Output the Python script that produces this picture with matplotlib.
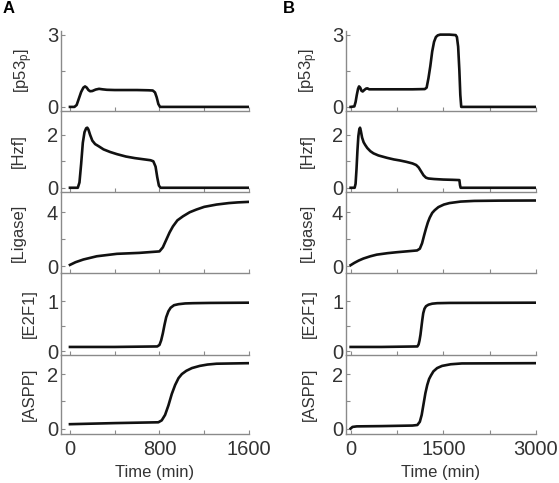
import matplotlib
matplotlib.use('Agg')
import matplotlib.pyplot as plt

plt.rcParams['font.family'] = ['Liberation Sans', 'DejaVu Sans']
plt.rcParams['mathtext.default'] = 'regular'

# ---- data ----
# panel A
tA_p53 = [0, 40, 60, 80, 100, 120, 135, 150, 165, 180, 200, 230, 260, 290, 330, 400, 500, 600, 700, 740, 760, 775, 790, 805, 1600]
A_p53 = [0, 0, 0.08, 0.35, 0.62, 0.8, 0.85, 0.8, 0.7, 0.65, 0.66, 0.72, 0.75, 0.73, 0.71, 0.7, 0.7, 0.7, 0.69, 0.68, 0.6, 0.4, 0.12, 0.0, 0.0]

tA_hzf = [0, 70, 85, 100, 115, 130, 145, 155, 165, 180, 200, 225, 260, 300, 360, 420, 500, 580, 650, 720, 745, 765, 780, 795, 810, 1600]
A_hzf = [0, 0, 0.2, 0.9, 1.7, 2.1, 2.25, 2.27, 2.2, 2.0, 1.78, 1.65, 1.56, 1.45, 1.35, 1.27, 1.18, 1.12, 1.08, 1.04, 1.0, 0.8, 0.4, 0.08, 0, 0]

tA_lig = [0, 50, 120, 240, 420, 620, 800, 830, 860, 890, 920, 960, 1010, 1070, 1130, 1200, 1310, 1420, 1500, 1600]
A_lig = [0.1, 0.3, 0.5, 0.74, 0.92, 0.99, 1.1, 1.4, 1.95, 2.5, 2.95, 3.4, 3.7, 4.0, 4.2, 4.4, 4.57, 4.68, 4.73, 4.77]

tA_e2f = [0, 400, 780, 800, 815, 830, 845, 860, 880, 900, 930, 970, 1030, 1100, 1250, 1600]
A_e2f = [0.09, 0.09, 0.1, 0.13, 0.22, 0.36, 0.53, 0.68, 0.8, 0.87, 0.92, 0.94, 0.955, 0.96, 0.965, 0.97]

tA_aspp = [0, 400, 790, 820, 850, 880, 910, 940, 970, 1000, 1040, 1090, 1160, 1230, 1310, 1450, 1600]
A_aspp = [0.16, 0.2, 0.23, 0.3, 0.5, 0.85, 1.27, 1.6, 1.85, 2.0, 2.12, 2.22, 2.3, 2.35, 2.38, 2.39, 2.4]

# panel B
tB_p53 = [0, 60, 80, 100, 120, 136, 155, 175, 195, 220, 250, 271, 300, 350, 500, 800, 1000, 1200, 1230, 1260, 1290, 1320, 1350, 1380, 1410, 1450, 1500, 1600, 1700, 1720, 1740, 1760, 1775, 1790, 3000]
B_p53 = [0, 0.02, 0.2, 0.5, 0.75, 0.85, 0.8, 0.67, 0.64, 0.7, 0.76, 0.77, 0.73, 0.73, 0.73, 0.73, 0.73, 0.74, 0.8, 1.2, 1.7, 2.3, 2.7, 2.9, 2.97, 3.0, 3.0, 3.0, 2.98, 2.9, 2.5, 1.5, 0.5, 0.0, 0.0]

tB_hzf = [0, 65, 80, 95, 110, 125, 140, 152, 165, 185, 210, 235, 270, 320, 370, 450, 590, 700, 800, 900, 1000, 1060, 1100, 1140, 1180, 1220, 1260, 1350, 1500, 1650, 1760, 1770, 1780, 3000]
B_hzf = [0, 0, 0.15, 0.7, 1.4, 1.95, 2.2, 2.27, 2.15, 1.9, 1.72, 1.62, 1.5, 1.38, 1.3, 1.22, 1.13, 1.07, 1.03, 0.98, 0.92, 0.86, 0.77, 0.62, 0.47, 0.38, 0.35, 0.33, 0.31, 0.3, 0.29, 0.1, 0, 0]

tB_lig = [0, 60, 130, 206, 320, 423, 600, 749, 900, 1075, 1120, 1156, 1190, 1220, 1250, 1280, 1320, 1360, 1420, 1509, 1600, 1780, 2000, 2400, 3000]
B_lig = [0.08, 0.25, 0.42, 0.57, 0.74, 0.86, 0.97, 1.04, 1.1, 1.17, 1.3, 1.7, 2.3, 2.8, 3.25, 3.6, 3.95, 4.15, 4.38, 4.57, 4.68, 4.79, 4.84, 4.86, 4.87]

tB_e2f = [0, 500, 1080, 1100, 1115, 1130, 1145, 1160, 1175, 1195, 1220, 1260, 1320, 1400, 1600, 3000]
B_e2f = [0.09, 0.09, 0.1, 0.14, 0.22, 0.33, 0.48, 0.63, 0.76, 0.85, 0.9, 0.93, 0.95, 0.96, 0.965, 0.97]

tB_aspp = [0, 30, 100, 500, 1000, 1080, 1120, 1150, 1180, 1210, 1240, 1270, 1300, 1340, 1400, 1480, 1620, 1800, 3000]
B_aspp = [0.0, 0.06, 0.08, 0.09, 0.11, 0.13, 0.25, 0.5, 0.9, 1.3, 1.6, 1.82, 1.95, 2.1, 2.22, 2.3, 2.36, 2.39, 2.4]

labels = ['[p53$_p$]', '[Hzf]', '[Ligase]', '[E2F1]', '[ASPP]']
yticks = [[0, 1.5, 3], [0, 1, 2], [0, 2, 4], [0, 0.5, 1], [0, 1, 2]]
ytlabels = [['0', '', '3'], ['0', '', '2'], ['0', '', '4'], ['0', '', '1'], ['0', '', '2']]
ylims = [(-0.17, 3.15), (-0.16, 2.9), (-0.5, 5.5), (-0.07, 1.56), (-0.2, 2.7)]

A_t = [tA_p53, tA_hzf, tA_lig, tA_e2f, tA_aspp]
A_v = [A_p53, A_hzf, A_lig, A_e2f, A_aspp]
B_t = [tB_p53, tB_hzf, tB_lig, tB_e2f, tB_aspp]
B_v = [B_p53, B_hzf, B_lig, B_e2f, B_aspp]

W, H = 559, 483
fig = plt.figure(figsize=(W / 100, H / 100), dpi=100)

tops = [31, 111, 192, 273, 355]
bots = [111, 192, 273, 355, 434]
gray = '#8a8a8a'

panels = [
    dict(left=61, right=249, ts=A_t, vs=A_v, xlim=(-80, 1600), xt=[0, 400, 800, 1200, 1600],
         xtl=['0', '', '800', '', '1600'], lab_x=[24, 18, 18, 29.5, 29.5], letter='A', lx=3),
    dict(left=346, right=536, ts=B_t, vs=B_v, xlim=(-75, 3000), xt=[0, 750, 1500, 2250, 3000],
         xtl=['0', '', '1500', '', '3000'], lab_x=[309, 307, 307, 309.5, 309.5], letter='B', lx=283),
]

for p in panels:
    for i in range(5):
        ax = fig.add_axes([p['left'] / W, 1 - bots[i] / H, (p['right'] - p['left']) / W, (bots[i] - tops[i]) / H])
        ax.plot(p['ts'][i], p['vs'][i], color='#111111', lw=1.9, solid_joinstyle='round')
        ax.set_xlim(p['xlim'])
        ax.set_ylim(ylims[i])
        ax.set_yticks(yticks[i])
        ax.set_yticklabels(ytlabels[i])
        ax.set_xticks(p['xt'])
        if i == 4:
            ax.set_xticklabels(p['xtl'])
            ax.set_xlabel('Time (min)', fontsize=12, color='#333333', labelpad=5)
        else:
            ax.set_xticklabels([])
        for s in ['top', 'right']:
            ax.spines[s].set_visible(False)
        for s in ['left', 'bottom']:
            ax.spines[s].set_color(gray)
            ax.spines[s].set_linewidth(1.0)
        ax.tick_params(direction='in', length=3, width=0.8, color=gray, labelsize=14.5,
                       labelcolor='#333333', pad=2)
        ax.tick_params(axis='x', pad=4)
        ax.patch.set_alpha(0)
        cx = (p['lab_x'][i] - p['left']) / (p['right'] - p['left'])
        ax.text(cx, 0.5, labels[i], transform=ax.transAxes, rotation=90, ha='center', va='center',
                fontsize=12, color='#333333')
    fig.text(p['lx'] / W, 1 - 1 / H, p['letter'], fontsize=12, fontweight='bold', ha='left', va='top')

fig.savefig('out.png', dpi=100)
